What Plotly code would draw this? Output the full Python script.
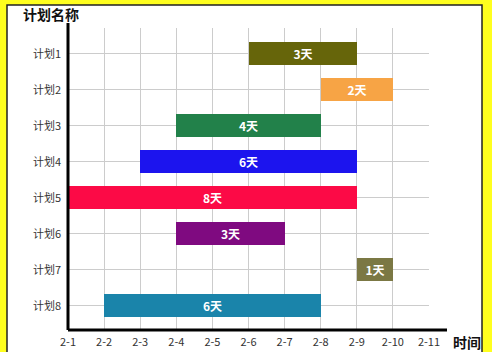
import plotly.graph_objects as go

tasks = ["计划1", "计划2", "计划3", "计划4", "计划5", "计划6", "计划7", "计划8"]
start_day = [6, 8, 4, 3, 1, 4, 9, 2]
end_day = [9, 10, 8, 9, 9, 7, 10, 8]
bar_colors = ["#66650a", "#f7a445", "#22814a", "#1c14ee", "#fc0a46", "#7f0a80", "#7b7844", "#1a84aa"]
day_ticks = [1, 2, 3, 4, 5, 6, 7, 8, 9, 10, 11]
day_labels = ["2-1", "2-2", "2-3", "2-4", "2-5", "2-6", "2-7", "2-8", "2-9", "2-10", "2-11"]

durations = [e - s for s, e in zip(start_day, end_day)]
labels = [f"{d}天" for d in durations]

FONT = "Noto Sans CJK SC"

fig = go.Figure()
fig.add_trace(go.Bar(
    y=tasks, x=durations, base=start_day, orientation="h",
    marker=dict(color=bar_colors, line=dict(width=0)),
    width=0.64,
    text=labels, textposition="inside", insidetextanchor="middle",
    textfont=dict(color="white", size=12, family=FONT, weight="bold"),
    hoverinfo="skip",
))

W, H = 492, 352
L, R, T, B = 68, 63, 28, 22
pw = W - L - R
ph = H - T - B

def px(x):
    return (x - L) / pw

def py(y):
    return (H - B - y) / ph

shapes = [
    # white panel with dark border
    dict(type="rect", xref="paper", yref="paper", layer="below",
         x0=px(7), x1=px(482), y0=py(370), y1=py(5),
         fillcolor="white", line=dict(color="#222222", width=1.5)),
    # axis line extensions
    dict(type="line", xref="paper", yref="paper", x0=0, x1=px(447), y0=0, y1=0,
         line=dict(color="black", width=3)),
    dict(type="line", xref="paper", yref="paper", x0=0, x1=0, y0=0, y1=py(23),
         line=dict(color="black", width=3)),
]

fig.update_layout(
    width=W, height=H,
    margin=dict(l=L, r=R, t=T, b=B, autoexpand=False),
    paper_bgcolor="#ffff1e",
    plot_bgcolor="rgba(0,0,0,0)",
    showlegend=False,
    bargap=0,
    shapes=shapes,
    font=dict(family=FONT, size=11, color="#333333"),
    xaxis=dict(range=[1, 11], tickvals=day_ticks, ticktext=day_labels,
               showgrid=True, gridcolor="#cccccc", gridwidth=1,
               zeroline=False, showline=False, ticks="", ticklen=0,
               ticklabelstandoff=4, automargin=False,
               tickfont=dict(size=11, color="#333333")),
    yaxis=dict(type="category", categoryorder="array", categoryarray=tasks,
               range=[7.67, -0.72], showgrid=True, gridcolor="#cccccc", gridwidth=1,
               zeroline=False, showline=False, ticks="", ticklen=0,
               ticklabelstandoff=6, automargin=False,
               tickfont=dict(size=11, color="#333333")),
    annotations=[
        dict(text="<b>计划名称</b>", xref="paper", yref="paper", x=px(21), y=py(14),
             xanchor="left", yanchor="middle", showarrow=False,
             font=dict(size=14, color="#111111", family=FONT)),
        dict(text="<b>时间</b>", xref="paper", yref="paper", x=px(451), y=py(342),
             xanchor="left", yanchor="middle", showarrow=False,
             font=dict(size=14, color="#111111", family=FONT)),
    ],
)

fig.write_html("out.html")
